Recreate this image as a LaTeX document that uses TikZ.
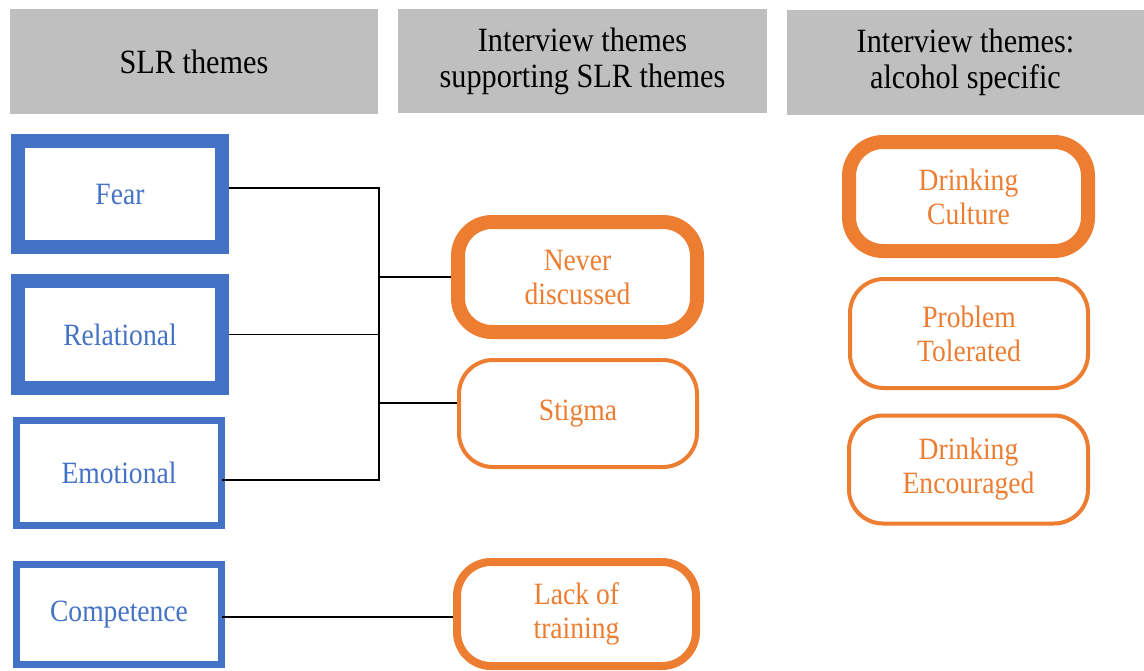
\documentclass[tikz,border=0pt]{standalone}
\usepackage{fontspec}
\newfontfamily\boxfont[FakeStretch=0.89]{Liberation Serif}
\definecolor{themeblue}{HTML}{4472C4}
\definecolor{themeorange}{HTML}{ED7D31}
\definecolor{headgray}{HTML}{BFBFBF}
\begin{document}
\begin{tikzpicture}[x=1pt,y=-1pt,
  header/.style={fill=headgray, inner sep=0pt, align=center,
    font=\boxfont\fontsize{34}{36}\selectfont},
  slrbox/.style={draw=themeblue, text=themeblue, fill=white, inner sep=0pt,
    align=center, font=\boxfont\fontsize{31}{34}\selectfont},
  ivbox/.style={draw=themeorange, text=themeorange, fill=white, inner sep=0pt,
    rounded corners=34pt, align=center, font=\boxfont\fontsize{31}{34}\selectfont},
  link/.style={draw=black, line width=1.2pt}]
\useasboundingbox (0,0) rectangle (1144,670);

% column headers
\node[header, minimum width=368pt, minimum height=105pt] (h1) at (194,61.5) {SLR themes};
\node[header, minimum width=369pt, minimum height=104pt] (h2) at (582.5,61) {Interview themes\\supporting SLR themes};
\node[header, minimum width=357pt, minimum height=105pt] (h3) at (965.5,62) {Interview themes:\\alcohol specific};

% SLR themes
\node[slrbox, line width=14pt, minimum width=204pt, minimum height=106pt] (fear) at (120,194) {Fear};
\node[slrbox, line width=14pt, minimum width=204pt, minimum height=107pt] (rel) at (120,334.5) {Relational};
\node[slrbox, line width=7pt, minimum width=205pt, minimum height=105pt] (emo) at (119,473) {Emotional};
\node[slrbox, line width=7pt, minimum width=205pt, minimum height=100pt] (comp) at (119,614.5) {Competence};

% interview themes supporting SLR themes
\node[ivbox, line width=14pt, minimum width=239pt, minimum height=110pt] (never) at (577.5,277) {Never\\discussed};
\node[ivbox, line width=4pt, minimum width=238pt, minimum height=107pt] (stigma) at (578,413.5) {Stigma};
\node[ivbox, line width=8pt, minimum width=239pt, minimum height=104pt] (lack) at (576.5,614) {Lack of\\training};

% alcohol specific themes
\node[ivbox, line width=14pt, minimum width=239pt, minimum height=109pt] (culture) at (968.5,196.5) {Drinking\\Culture};
\node[ivbox, line width=4pt, minimum width=238pt, minimum height=109pt] (tolerated) at (969,333.5) {Problem\\Tolerated};
\node[ivbox, line width=4pt, minimum width=239pt, minimum height=108pt] (encouraged) at (968.5,469.5) {Drinking\\Encouraged};

% connector bus
\coordinate (bus) at (379,0);
\coordinate (fa) at ([yshift=6pt]fear.east);
\coordinate (ea) at ([yshift=-7pt,xshift=-3pt]emo.east);
\coordinate (sa) at ([yshift=10.5pt]stigma.west);
\coordinate (ca) at ([yshift=-2.5pt,xshift=-3pt]comp.east);

\draw[link] (fa) -- (fa -| bus) -- (ea -| bus) -- (ea);
\draw[link] (rel.east) -- (rel.east -| bus);
\draw[link] (never.west -| bus) -- (never.west);
\draw[link] (sa -| bus) -- (sa);
\draw[link] (ca) -- (ca -| lack.west);
\end{tikzpicture}
\end{document}
